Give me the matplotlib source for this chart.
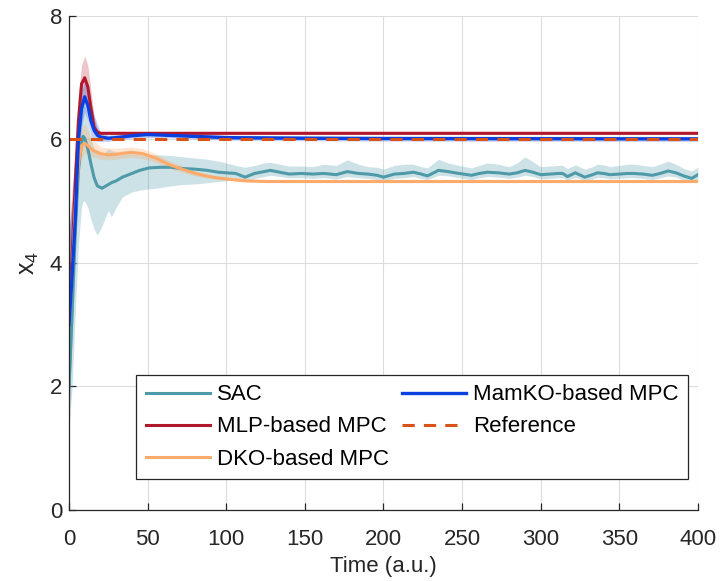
import matplotlib
matplotlib.use("Agg")
import matplotlib.pyplot as plt

plt.rcParams['font.family'] = ['Liberation Sans', 'DejaVu Sans']

# ---- data -------------------------------------------------------------
ref_t = [0, 400]
ref_y = [6.0, 6.0]

mlp_t = [0, 2, 4, 6, 8, 10, 12, 14, 16, 18, 20, 25, 400]
mlp_y = [3.0, 4.1, 5.3, 6.3, 6.9, 7.0, 6.85, 6.5, 6.2, 6.12, 6.1, 6.1, 6.1]
mlp_lo = [1.5, 3.0, 4.8, 5.9, 6.6, 6.7, 6.55, 6.3, 6.1, 6.08, 6.08, 6.08, 6.08]
mlp_hi = [4.5, 5.2, 5.8, 6.7, 7.2, 7.35, 7.2, 6.8, 6.35, 6.17, 6.13, 6.13, 6.13]

mamko_t = [0, 2, 4, 6, 8, 10, 12, 14, 16, 18, 20, 25, 30, 40, 50, 60, 80, 100, 150, 200, 400]
mamko_y = [3.0, 3.8, 4.7, 6.0, 6.5, 6.69, 6.55, 6.3, 6.15, 6.07, 6.04, 6.02, 6.03, 6.06, 6.08,
           6.07, 6.05, 6.03, 6.02, 6.015, 6.01]
mamko_lo = [1.5, 2.8, 4.2, 5.6, 6.2, 6.45, 6.3, 6.05, 5.98, 5.97, 5.97, 5.97, 5.99, 6.02, 6.03,
            6.03, 6.01, 5.99, 5.98, 5.975, 5.97]
mamko_hi = [4.5, 5.0, 5.4, 6.4, 6.8, 6.95, 6.85, 6.6, 6.4, 6.25, 6.12, 6.07, 6.08, 6.1, 6.12,
            6.11, 6.09, 6.07, 6.06, 6.055, 6.05]

dko_t = [0, 2, 4, 6, 8, 10, 12, 15, 20, 25, 30, 35, 40, 47, 55, 64, 72, 79, 87, 94, 104,
         113, 125, 140, 400]
dko_y = [3.0, 3.8, 4.9, 5.6, 5.9, 5.94, 5.9, 5.83, 5.77, 5.75, 5.76, 5.78, 5.79, 5.77, 5.7,
         5.59, 5.52, 5.46, 5.41, 5.38, 5.35, 5.33, 5.32, 5.32, 5.32]
dko_lo = [2.0, 3.2, 4.4, 5.3, 5.7, 5.78, 5.76, 5.72, 5.68, 5.67, 5.68, 5.7, 5.71, 5.69, 5.63,
          5.53, 5.47, 5.42, 5.38, 5.35, 5.33, 5.31, 5.3, 5.3, 5.3]
dko_hi = [4.0, 4.5, 5.4, 6.0, 6.2, 6.25, 6.15, 6.0, 5.88, 5.86, 5.86, 5.87, 5.88, 5.85, 5.77,
          5.65, 5.57, 5.5, 5.44, 5.41, 5.37, 5.35, 5.34, 5.34, 5.34]

sac_t = [0, 2, 4, 6, 8, 9, 10, 12, 14, 16, 18, 21, 25, 27, 30, 34, 40, 45, 51, 58, 65, 72, 80,
         88, 95, 100, 106, 112, 118, 124, 128, 134, 140, 148, 155, 162, 170, 177, 184, 190,
         196, 200, 207, 213, 219, 224, 228, 235, 241, 248, 256, 261, 266, 273, 280, 285, 290,
         295, 300, 306, 311, 314, 317, 322, 328, 333, 336, 340, 344, 350, 355, 359, 365, 371,
         376, 381, 386, 391, 396, 400]
sac_y = [2.0, 3.2, 4.5, 5.5, 5.95, 6.05, 6.02, 5.85, 5.6, 5.38, 5.25, 5.21, 5.27, 5.3, 5.33,
         5.39, 5.45, 5.5, 5.54, 5.55, 5.55, 5.53, 5.52, 5.5, 5.47, 5.46, 5.45, 5.39, 5.45, 5.48,
         5.5, 5.47, 5.44, 5.45, 5.44, 5.45, 5.43, 5.48, 5.45, 5.44, 5.42, 5.39, 5.44, 5.45, 5.47,
         5.44, 5.41, 5.5, 5.48, 5.45, 5.42, 5.45, 5.47, 5.46, 5.44, 5.46, 5.5, 5.47, 5.43, 5.44,
         5.45, 5.45, 5.4, 5.46, 5.39, 5.43, 5.46, 5.45, 5.43, 5.44, 5.45, 5.45, 5.44, 5.42, 5.45,
         5.49, 5.46, 5.41, 5.37, 5.43]
sac_lo = [1.3, 2.0, 3.2, 4.3, 4.9, 5.0, 5.0, 4.9, 4.7, 4.55, 4.45, 4.6, 4.85, 4.75, 4.9, 5.07,
          5.15, 5.18, 5.2, 5.22, 5.25, 5.27, 5.28, 5.3, 5.32, 5.33, 5.36, 5.32, 5.37, 5.4, 5.42,
          5.4, 5.38, 5.38, 5.37, 5.38, 5.36, 5.4, 5.38, 5.37, 5.35, 5.33, 5.37, 5.38, 5.4, 5.37,
          5.35, 5.42, 5.41, 5.38, 5.35, 5.38, 5.4, 5.39, 5.37, 5.39, 5.42, 5.4, 5.36, 5.37, 5.38,
          5.38, 5.34, 5.39, 5.33, 5.36, 5.39, 5.38, 5.36, 5.37, 5.38, 5.38, 5.37, 5.35, 5.38,
          5.41, 5.39, 5.34, 5.31, 5.36]
sac_hi = [4.3, 5.0, 5.8, 6.3, 6.55, 6.6, 6.55, 6.3, 6.0, 5.85, 5.8, 5.75, 5.85, 5.82, 5.8, 5.78,
          5.77, 5.76, 5.75, 5.75, 5.74, 5.72, 5.7, 5.68, 5.65, 5.62, 5.58, 5.55, 5.58, 5.62, 5.63,
          5.6, 5.57, 5.57, 5.56, 5.6, 5.58, 5.67, 5.6, 5.56, 5.55, 5.52, 5.58, 5.6, 5.6, 5.56,
          5.54, 5.68, 5.62, 5.58, 5.54, 5.58, 5.62, 5.6, 5.56, 5.62, 5.72, 5.64, 5.56, 5.57, 5.58,
          5.58, 5.53, 5.59, 5.52, 5.56, 5.6, 5.59, 5.56, 5.58, 5.6, 5.6, 5.58, 5.56, 5.6, 5.65,
          5.6, 5.53, 5.49, 5.55]

c_sac = '#4e9aa8'
c_mlp = '#b2182b'
c_dko = '#fdaa6b'
c_mamko = '#0a3fe0'
c_ref = '#d95319'
c_axis = '#262626'

# ---- figure -----------------------------------------------------------
fig = plt.figure(figsize=(7.2, 5.81), dpi=100)
ax = fig.add_axes([0.0958, 0.1222, 0.8736, 0.8503])

ax.fill_between(sac_t, sac_lo, sac_hi, color=c_sac, alpha=0.28, lw=0)
ax.plot(sac_t, sac_y, color=c_sac, lw=2.2, label='SAC')

ax.fill_between(mlp_t, mlp_lo, mlp_hi, color=c_mlp, alpha=0.25, lw=0)
ax.plot(mlp_t, mlp_y, color=c_mlp, lw=2.2, label='MLP-based MPC')

ax.fill_between(dko_t, dko_lo, dko_hi, color=c_dko, alpha=0.3, lw=0)
ax.plot(dko_t, dko_y, color=c_dko, lw=2.2, label='DKO-based MPC')

ax.fill_between(mamko_t, mamko_lo, mamko_hi, color=c_mamko, alpha=0.25, lw=0)
ax.plot(mamko_t, mamko_y, color=c_mamko, lw=2.4, label='MamKO-based MPC')

ax.plot(ref_t, ref_y, color=c_ref, lw=2.2, ls=(0, (4, 3)), label='Reference')

ax.set_xlim(0, 400)
ax.set_ylim(0, 8)
ax.set_xticks(range(0, 401, 50))
ax.set_yticks(range(0, 9, 2))
ax.grid(True, color='#dcdcdc', lw=0.8)
ax.set_axisbelow(True)
for s in ('top', 'right'):
    ax.spines[s].set_visible(False)
for s in ('left', 'bottom'):
    ax.spines[s].set_color(c_axis)
    ax.spines[s].set_linewidth(0.9)
ax.tick_params(direction='in', length=5, width=0.9, color=c_axis,
               labelsize=16, labelcolor=c_axis)
ax.tick_params(axis='x', pad=14)
ax.tick_params(axis='y', pad=5)
ax.set_xlabel('Time (a.u.)', fontsize=16, color=c_axis, labelpad=4)
ax.set_ylabel('$\\mathregular{x_4}$', fontsize=18, color=c_axis, labelpad=6)

leg = ax.legend(ncol=2, loc='lower right', bbox_to_anchor=(0.984, 0.063),
                fontsize=16, frameon=True, fancybox=False, edgecolor=c_axis,
                handlelength=2.9, handletextpad=0.3, columnspacing=0.6,
                labelspacing=0.5, borderpad=0.42, borderaxespad=0)
leg.get_frame().set_linewidth(0.9)
leg.get_frame().set_alpha(1)

fig.savefig('out.png', dpi=100)
